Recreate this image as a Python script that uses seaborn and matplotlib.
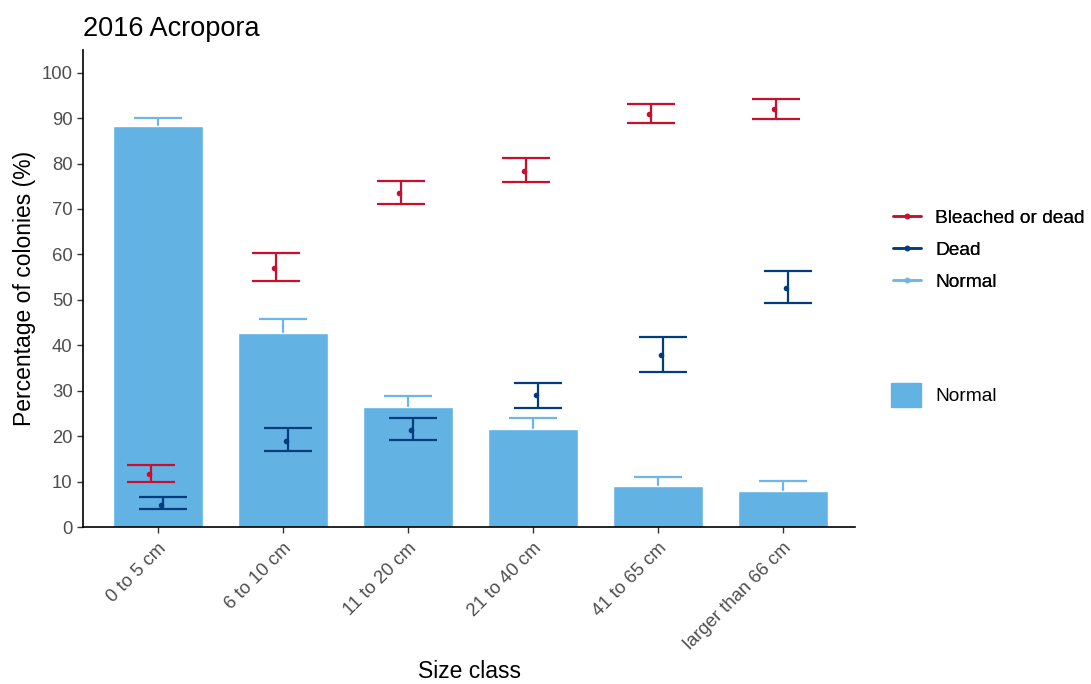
import numpy as np
import pandas as pd
import seaborn as sns
import matplotlib.pyplot as plt
from matplotlib.lines import Line2D
from matplotlib.patches import Patch

sizes = ["0 to 5 cm", "6 to 10 cm", "11 to 20 cm", "21 to 40 cm", "41 to 65 cm", "larger than 66 cm"]

normal = [88.3, 42.8, 26.4, 21.6, 9.0, 8.0]
normal_hi = [90.0, 45.8, 28.9, 24.0, 10.9, 10.1]

bleached = [11.7, 57.0, 73.6, 78.4, 91.0, 92.1]
bleached_lo = [9.9, 54.2, 71.1, 76.0, 89.0, 89.7]
bleached_hi = [13.7, 60.4, 76.2, 81.2, 93.2, 94.3]

dead = [4.9, 19.0, 21.4, 29.0, 37.9, 52.7]
dead_lo = [4.0, 16.8, 19.2, 26.2, 34.2, 49.3]
dead_hi = [6.5, 21.7, 23.9, 31.7, 41.9, 56.4]

red = "#C8102E"
navy = "#003C7E"
light = "#62B2E4"

sns.set_theme(style="ticks")
plt.rcParams['font.family'] = ['Liberation Sans', 'DejaVu Sans']
plt.rcParams['text.color'] = 'black'
plt.rcParams['axes.labelcolor'] = 'black'

fig = plt.figure(figsize=(10.91, 6.84), dpi=100)
ax = fig.add_axes([0.076, 0.2295, 0.708, 0.6975])

df = pd.DataFrame({"Size": sizes, "Normal": normal})
x = np.arange(len(sizes))

# normal error bars sit behind the bars
nh = np.array(normal_hi) - np.array(normal)
ax.errorbar(x, normal, yerr=[nh, nh], fmt="none", ecolor="#6DB6EA",
            capsize=17, elinewidth=1.6, capthick=1.6, zorder=1)
sns.barplot(data=df, x="Size", y="Normal", color=light, saturation=1,
            width=0.72, ax=ax, zorder=2)

def draw(vals, lo, hi, col, off):
    v = np.array(vals)
    err = [v - np.array(lo), np.array(hi) - v]
    ax.errorbar(x + off, v, yerr=err, fmt="none", ecolor=col, capsize=17,
                elinewidth=1.6, capthick=1.6, zorder=3)
    ax.scatter(x + off - 0.015, v, s=9, color=col, zorder=4)

draw(bleached, bleached_lo, bleached_hi, red, -0.055)
draw(dead, dead_lo, dead_hi, navy, 0.04)

ax.set_xlim(-0.6, 5.58)
ax.set_ylim(0, 105)
ax.set_yticks(range(0, 101, 10))
ax.tick_params(axis="both", labelsize=13.3, colors="#4D4D4D", length=4, width=1)
ax.tick_params(axis="both", color="#333333")
ax.tick_params(axis="x", pad=5)
plt.setp(ax.get_xticklabels(), rotation=45, ha="right", rotation_mode="anchor")
ax.set_xlabel("Size class", fontsize=16.5, labelpad=5, color="black")
ax.set_ylabel("Percentage of colonies (%)", fontsize=16.5, labelpad=4, color="black")
ax.set_title("2016 Acropora", loc="left", fontsize=19.5, pad=10, color="black")
for s in ["top", "right"]:
    ax.spines[s].set_visible(False)
for s in ["left", "bottom"]:
    ax.spines[s].set_linewidth(1.2)
    ax.spines[s].set_color("black")

handles = [Line2D([0], [0], color=c, lw=1.8, marker="o", markersize=3)
           for c in [red, navy, "#6DB6EA"]]
leg1 = fig.legend(handles, ["Bleached or dead", "Dead", "Normal"],
                  loc="center left", bbox_to_anchor=(0.8185, 0.6345), frameon=False,
                  fontsize=13.8, handlelength=1.46, labelspacing=0.77,
                  handletextpad=0.73, borderpad=0, borderaxespad=0)
fig.legend([Patch(color=light)], ["Normal"], loc="center left",
           bbox_to_anchor=(0.8167, 0.4225), frameon=False, fontsize=13.8,
           handlelength=1.56, handleheight=1.6, handletextpad=0.73,
           borderpad=0, borderaxespad=0)
fig.add_artist(leg1)

fig.savefig("out.png", dpi=100)
